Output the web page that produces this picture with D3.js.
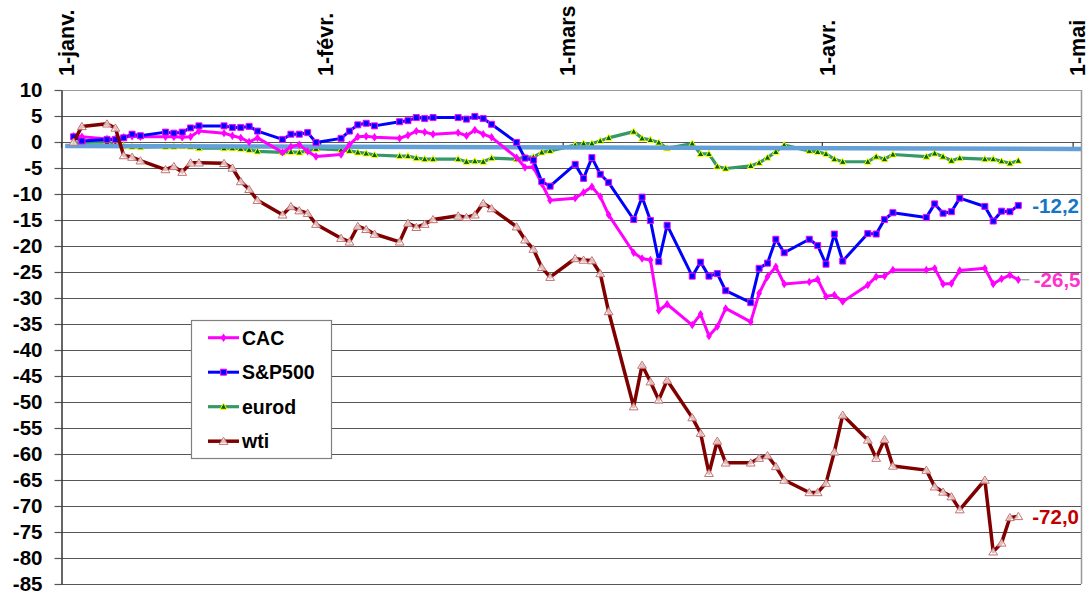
<!DOCTYPE html>
<html>
<head>
<meta charset="utf-8">
<script src="https://cdn.jsdelivr.net/npm/d3@7"></script>
<style>
  body { margin: 0; background: #fff; }
  svg { display: block; font-family: 'Liberation Sans', Arial, sans-serif; font-weight: bold; }
</style>
</head>
<body>
<div class="viz"></div>
<script>
'use strict'

const width = 1091,
  height = 594;
const plot = {left: 61, right: 1081, top: 90, bottom: 584};

// trading days (2020)
const dates = [
  '2020-01-02', '2020-01-03', '2020-01-06', '2020-01-07', '2020-01-08', '2020-01-09', '2020-01-10',
  '2020-01-13', '2020-01-14', '2020-01-15', '2020-01-16', '2020-01-17', '2020-01-20', '2020-01-21',
  '2020-01-22', '2020-01-23', '2020-01-24', '2020-01-27', '2020-01-28', '2020-01-29', '2020-01-30',
  '2020-01-31',
  '2020-02-03', '2020-02-04', '2020-02-05', '2020-02-06', '2020-02-07', '2020-02-10', '2020-02-11',
  '2020-02-12', '2020-02-13', '2020-02-14', '2020-02-17', '2020-02-18', '2020-02-19', '2020-02-20',
  '2020-02-21', '2020-02-24', '2020-02-25', '2020-02-26', '2020-02-27', '2020-02-28',
  '2020-03-02', '2020-03-03', '2020-03-04', '2020-03-05', '2020-03-06', '2020-03-09', '2020-03-10',
  '2020-03-11', '2020-03-12', '2020-03-13', '2020-03-16', '2020-03-17', '2020-03-18', '2020-03-19',
  '2020-03-20', '2020-03-23', '2020-03-24', '2020-03-25', '2020-03-26', '2020-03-27', '2020-03-30',
  '2020-03-31',
  '2020-04-01', '2020-04-02', '2020-04-03', '2020-04-06', '2020-04-07', '2020-04-08', '2020-04-09',
  '2020-04-13', '2020-04-14', '2020-04-15', '2020-04-16', '2020-04-17', '2020-04-20', '2020-04-21',
  '2020-04-22', '2020-04-23', '2020-04-24'
];

const cac = [
  1.1, 1.0, 0.6, 0.6, 0.9, 1.1, 1.0, 1.0, 1.0, 0.9, 1.0, 2.1, 1.7, 1.2, 0.8, 0.0, 0.8,
  -2.0, -0.9, -0.5, -1.8, -2.8,
  -2.4, -0.5, 1.0, 1.1, 0.9, 0.7, 1.3, 2.1, 1.9, 1.5, 1.8, 1.2, 2.3, 1.5, 0.9,
  -3.0, -4.9, -4.8, -8.0, -11.2,
  -10.8, -9.7, -8.6, -10.5, -14.0, -21.3, -22.4, -22.7, -32.4, -31.2, -35.2, -33.1,
  -37.3, -35.5, -32.0, -34.6, -29.1, -25.9, -24.0, -27.3, -26.9, -26.4,
  -29.7, -29.4, -30.7, -27.5, -25.9, -25.8, -24.6, -24.6, -24.3, -27.3, -27.2, -24.7,
  -24.3, -27.3, -26.3, -25.6, -26.5
];

const sp500 = [
  1.0, 0.2, 0.5, 0.5, 0.8, 1.5, 1.2, 1.9, 1.7, 1.9, 2.7, 3.1, 3.1, 2.8, 2.8, 3.0, 2.1,
  0.5, 1.5, 1.5, 1.8, -0.1,
  0.7, 2.1, 3.3, 3.6, 3.1, 3.9, 4.1, 4.7, 4.5, 4.7, 4.7, 4.4, 4.9, 4.5, 3.4,
  -0.1, -3.1, -3.5, -7.6, -8.5,
  -4.3, -7.0, -3.0, -6.2, -7.8, -14.9, -10.6, -15.1, -23.0, -16.0, -25.8, -23.1,
  -25.8, -25.3, -28.6, -30.9, -24.3, -23.3, -18.7, -21.3, -18.7, -19.9,
  -23.5, -17.7, -22.9, -17.6, -17.7, -14.9, -13.6, -14.5, -11.9, -13.7, -13.4, -10.8,
  -12.4, -15.2, -13.3, -13.4, -12.2
];

const eurod = [
  -0.2, -0.1, 0.0, -0.4, -0.8, -0.9, -1.0, -0.9, -0.9, -0.8, -0.9, -1.2, -1.2, -1.2, -1.3, -1.5, -1.8,
  -2.0, -1.9, -2.0, -1.7, -1.3,
  -1.5, -1.7, -2.0, -2.2, -2.5, -2.7, -2.7, -3.1, -3.3, -3.3, -3.3, -3.8, -3.7, -3.8, -3.1,
  -3.3, -2.9, -2.9, -2.0, -1.7,
  -0.6, -0.3, -0.3, 0.2, 0.8, 2.0, 0.7, 0.4, -0.1, -1.2, -0.3, -2.3,
  -2.3, -4.7, -5.1, -4.6, -4.0, -3.0, -1.9, -0.6, -1.7, -1.9,
  -2.3, -3.3, -3.8, -3.8, -2.8, -3.3, -2.4, -2.8, -2.2, -2.8, -3.6, -3.1,
  -3.3, -3.3, -3.7, -4.1, -3.6
];

const wti = [
  0.0, 3.0, 3.5, 2.7, -2.6, -2.9, -3.6, -5.3, -4.7, -5.8, -4.0, -4.0, -4.1, -5.0, -7.6, -9.1, -11.2,
  -14.0, -12.4, -13.2, -13.7, -15.8,
  -18.5, -19.2, -16.2, -16.8, -17.7, -19.2, -15.6, -16.4, -15.8, -14.9, -14.2, -14.5, -14.0, -11.8, -12.8,
  -16.3, -18.8, -20.6, -24.1, -26.0,
  -22.4, -22.7, -22.8, -25.3, -32.6, -50.9, -42.9, -46.1, -49.6, -45.8, -53.0, -56.0,
  -63.7, -57.5, -61.7, -61.7, -60.8, -60.3, -62.4, -65.0, -67.4, -67.4,
  -65.6, -59.6, -52.5, -57.3, -60.8, -57.2, -62.3, -63.1, -66.3, -67.3, -68.2, -70.7,
  -65.0, -78.8, -77.1, -72.2, -72.0
];

// the flat light blue line across the chart
const ref_dates = ['2020-01-01 12', '2020-05-02 00'];
const ref_values = [-0.75, -1.35];

const month_ticks = ['2020-01-01', '2020-02-01', '2020-03-01', '2020-04-01', '2020-05-01'];
const month_labels = ['1-janv.', '1-févr.', '1-mars', '1-avr.', '1-mai'];
const y_ticks = [10, 5, 0, -5, -10, -15, -20, -25, -30, -35, -40, -45, -50, -55, -60, -65, -70, -75, -80, -85];

const series_names = ['CAC', 'S&P500', 'eurod', 'wti'];
const end_labels = [
  {text: '-26,5', series: 'CAC', color: '#ff33cc', leader: true},
  {text: '-12,2', series: 'S&P500', color: '#1577c4', leader: false},
  {text: '-72,0', series: 'wti', color: '#c00000', leader: false}
];

const parse = d3.utcParse('%Y-%m-%d');
const parse_h = d3.utcParse('%Y-%m-%d %H');
// points sit in the middle of their day slot
const mid = d => d3.utcHour.offset(parse(d), 12);

const x = d3.scaleUtc()
  .domain([parse('2020-01-01'), parse('2020-05-02')])
  .range([plot.left, plot.right]);
const y = d3.scaleLinear()
  .domain([-85, 10])
  .range([plot.bottom, plot.top]);

const styles = {
  'CAC': {line: '#ff00ff', width: 3},
  'S&P500': {line: '#0000ff', width: 3},
  'eurod': {line: '#339966', width: 3.2},
  'wti': {line: '#800000', width: 3.5}
};
const values_of = {'CAC': cac, 'S&P500': sp500, 'eurod': eurod, 'wti': wti};

let svg = d3.select('.viz')
  .append('svg')
  .attr('width', width)
  .attr('height', height);

// grid
svg.append('g')
  .selectAll('line')
  .data(y_ticks)
  .join('line')
  .attr('x1', plot.left)
  .attr('x2', plot.right)
  .attr('y1', d => Math.round(y(d)) + 0.5)
  .attr('y2', d => Math.round(y(d)) + 0.5)
  .attr('stroke', d => d === 10 ? '#999' : '#555')
  .attr('stroke-width', 1.2);

// right border
svg.append('line')
  .attr('x1', plot.right + 0.5).attr('x2', plot.right + 0.5)
  .attr('y1', plot.top).attr('y2', plot.bottom)
  .attr('stroke', '#999')
  .attr('stroke-width', 1.5);

// y axis
let y_axis = svg.append('g')
  .attr('transform', `translate(${plot.left + 0.5},0)`)
  .call(d3.axisLeft(y)
    .tickValues(y_ticks)
    .tickSize(7)
    .tickSizeOuter(0)
    .tickPadding(12)
    .tickFormat(d => String(d)));
y_axis.select('.domain').attr('stroke', '#333').attr('stroke-width', 1.5);
y_axis.selectAll('.tick line').attr('stroke', '#555').attr('stroke-width', 1.2);
y_axis.selectAll('.tick text')
  .attr('fill', '#000')
  .style('font-size', '20.5px')
  .style('font-family', "'Liberation Sans', Arial, sans-serif")
  .style('font-weight', 'bold');

// month ticks on the zero line
let x_axis = svg.append('g')
  .attr('transform', `translate(0,${y(0)})`)
  .call(d3.axisBottom(x)
    .tickValues(month_ticks.map(parse))
    .tickSize(6)
    .tickFormat(''));
x_axis.select('.domain').remove();
x_axis.selectAll('.tick line').attr('stroke', '#333').attr('stroke-width', 1.2);

svg.append('g')
  .selectAll('text')
  .data(month_ticks)
  .join('text')
  .attr('transform', d => `translate(${x(parse(d)) + 12.7},76) rotate(-90)`)
  .attr('text-anchor', 'start')
  .style('font-size', '21.5px')
  .text((d, i) => month_labels[i]);

// series
const line = d3.line()
  .x(d => x(d.date))
  .y(d => y(d.value));

function points(name) {
  return dates.map((d, i) => ({date: mid(d), value: values_of[name][i]}));
}

const diamond = 'M0,-4.2L2.9,0L0,4.2L-2.9,0Z';
const square = 'M-3,-3H3V3H-3Z';
const tri_small = 'M0,-3.6L3.4,2.6H-3.4Z';
const tri_open = 'M0,-4L4.4,3.2H-4.4Z';

// markers at the given [x, y] pixel positions
function draw_markers(g, name, xy) {
  let m = g.append('g')
    .selectAll('path')
    .data(xy)
    .join('path')
    .attr('transform', d => `translate(${d[0]},${d[1]})`);
  if (name === 'CAC') {
    m.attr('d', diamond).attr('fill', '#ff00ff');
  } else if (name === 'S&P500') {
    m.attr('d', square).attr('fill', '#0000ff')
      .attr('stroke', '#ff00ff').attr('stroke-width', 1);
  } else if (name === 'eurod') {
    m.attr('d', tri_small).attr('fill', '#006600')
      .attr('stroke', '#ffff00').attr('stroke-width', 1);
  } else {
    m.attr('d', tri_open).attr('fill', '#fff').attr('fill-opacity', 0.75)
      .attr('stroke', '#c47070').attr('stroke-width', 1);
  }
}

function draw_series(name) {
  let pts = points(name);
  let g = svg.append('g');
  g.append('path')
    .datum(pts)
    .attr('fill', 'none')
    .attr('stroke', styles[name].line)
    .attr('stroke-width', styles[name].width)
    .attr('stroke-linejoin', 'round')
    .attr('d', line);
  draw_markers(g, name, pts.map(d => [x(d.date), y(d.value)]));
}

draw_series('eurod');

svg.append('path')
  .datum(ref_dates.map((d, i) => ({date: parse_h(d), value: ref_values[i]})))
  .attr('fill', 'none')
  .attr('stroke', '#64a0d8')
  .attr('stroke-width', 4.5)
  .attr('d', line);

draw_series('CAC');
draw_series('S&P500');
draw_series('wti');

// end labels
end_labels.forEach(l => {
  let vals = values_of[l.series];
  let last_x = x(mid(dates[dates.length - 1]));
  let last_y = y(vals[vals.length - 1]);
  if (l.leader) {
    svg.append('line')
      .attr('x1', last_x + 3).attr('x2', last_x + 11)
      .attr('y1', last_y).attr('y2', last_y)
      .attr('stroke', '#808080')
      .attr('stroke-width', 1);
  }
  svg.append('text')
    .attr('x', last_x + (l.leader ? 15.5 : 14))
    .attr('y', last_y)
    .attr('dy', '0.35em')
    .attr('fill', l.color)
    .style('font-size', '20.5px')
    .text(l.text);
});

// legend
const legend = {x: 191, y: 320, w: 140, h: 138, row0: 17.7, row_step: 34.5};
let lg = svg.append('g');
lg.append('rect')
  .attr('x', legend.x + 0.5)
  .attr('y', legend.y + 0.5)
  .attr('width', legend.w)
  .attr('height', legend.h)
  .attr('fill', '#fff')
  .attr('stroke', '#808080')
  .attr('stroke-width', 1.2);
let rows = lg.selectAll('g.row')
  .data(series_names)
  .join('g')
  .attr('class', 'row')
  .attr('transform', (d, i) => `translate(${legend.x},${legend.y + legend.row0 + i * legend.row_step})`);
rows.append('line')
  .attr('x1', 17).attr('x2', 48)
  .attr('stroke', d => styles[d].line)
  .attr('stroke-width', d => styles[d].width);
rows.each(function(d) {
  draw_markers(d3.select(this), d, [[32.5, 0]]);
});
rows.append('text')
  .attr('x', 51)
  .attr('dy', '0.36em')
  .style('font-size', '19.5px')
  .text(d => d);
</script>
</body>
</html>
